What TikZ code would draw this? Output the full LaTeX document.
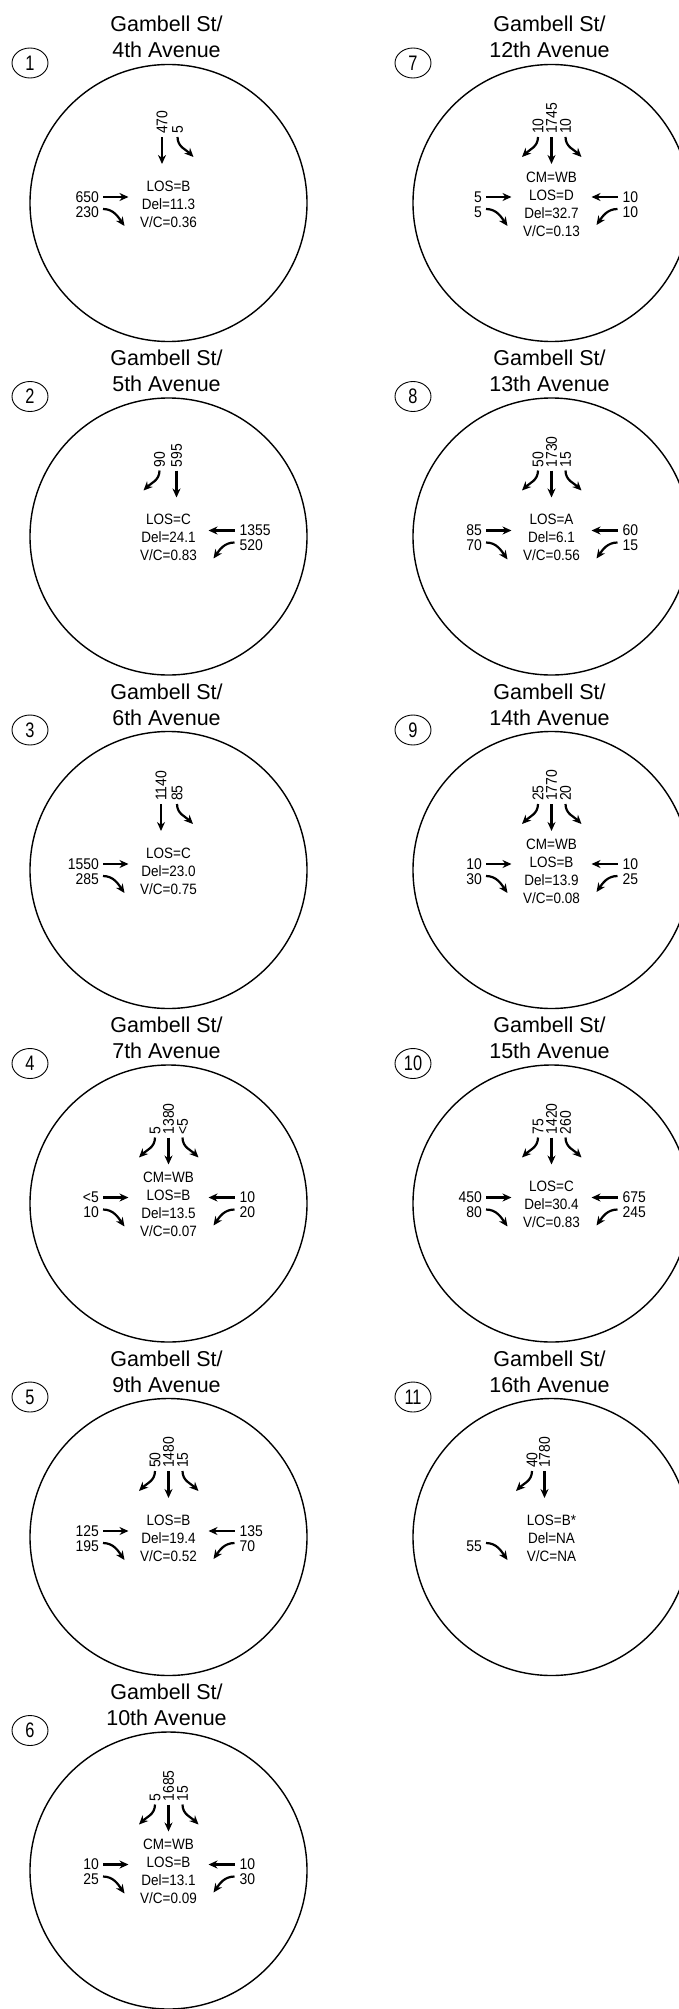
\documentclass[tikz,border=0pt]{standalone}
\usepackage{fontspec}
\setmainfont{Liberation Sans}
\newfontfamily\volfont[FakeStretch=0.9]{Liberation Sans}
\newfontfamily\badgefont[FakeStretch=0.78]{Liberation Sans}
\usetikzlibrary{arrows.meta,shapes.geometric}
\tikzstyle{ring}=[draw=black, shape=circle, line width=1.4pt, minimum size=277pt, inner sep=0pt]
\tikzstyle{badge}=[draw=black, shape=ellipse, line width=0.9pt, minimum width=36pt, minimum height=30pt, inner sep=0pt, font=\badgefont\fontsize{21}{21}\selectfont]
\tikzstyle{title}=[align=center, inner sep=0pt, anchor=base, font=\fontsize{21.5}{26}\selectfont]
\tikzstyle{info}=[align=center, inner sep=0pt, font=\volfont\fontsize{15}{18}\selectfont]
\tikzstyle{vol}=[inner sep=0pt, font=\volfont\fontsize{15.5}{15.5}\selectfont]
\tikzstyle{move}=[-{Stealth[length=9pt,width=8pt]}, line width=2.2pt]

% from the top: #1 = x of the lane, #2 = volume
\newcommand{\sbthru}[2]{%
  \node [vol, rotate=90, anchor=west] (sbt) at (#1,69) {#2};
  \coordinate (sbt-a) at (#1,66);
  \coordinate (sbt-b) at (#1,39);
  \draw [move] (sbt-a) -- (sbt-b);}
\newcommand{\sbright}[2]{%
  \node [vol, rotate=90, anchor=west] (sbr) at (#1,69) {#2};
  \coordinate (sbr-a) at (#1,66);
  \coordinate (sbr-b) at ({#1-16},46);
  \draw [move] (sbr-a) to [out=-90, in=45] (sbr-b);}
\newcommand{\sbleft}[2]{%
  \node [vol, rotate=90, anchor=west] (sbl) at (#1,69) {#2};
  \coordinate (sbl-a) at (#1,66);
  \coordinate (sbl-b) at ({#1+16},46);
  \draw [move] (sbl-a) to [out=-90, in=135] (sbl-b);}
% from the left
\newcommand{\ebthru}[1]{%
  \node [vol, anchor=east] (ebt) at (-69.5,6) {#1};
  \coordinate (ebt-a) at (-65.5,6);
  \coordinate (ebt-b) at (-40,6);
  \draw [move] (ebt-a) -- (ebt-b);}
\newcommand{\ebright}[1]{%
  \node [vol, anchor=east] (ebr) at (-69.5,-9) {#1};
  \coordinate (ebr-a) at (-65.5,-6);
  \coordinate (ebr-b) at (-44,-23);
  \draw [move] (ebr-a) to [out=0, in=125] (ebr-b);}
% from the right
\newcommand{\wbthru}[1]{%
  \node [vol, anchor=west] (wbt) at (71,6) {#1};
  \coordinate (wbt-a) at (66,6);
  \coordinate (wbt-b) at (40,6);
  \draw [move] (wbt-a) -- (wbt-b);}
\newcommand{\wbleft}[1]{%
  \node [vol, anchor=west] (wbl) at (71,-9) {#1};
  \coordinate (wbl-a) at (66,-6);
  \coordinate (wbl-b) at (45,-22);
  \draw [move] (wbl-a) to [out=180, in=55] (wbl-b);}
% circle, number and street names
\newcommand{\crossing}[3]{%
  \node [ring] (ring) at (0,0) {};
  \node [badge] (badge) at (-138.5,140) {#1};
  \node [title] (title) at (-2,145) {Gambell St/\\#2 Avenue};
  \node [info] (info) at (0,-1) {#3};}

\begin{document}
\begin{tikzpicture}[x=1pt, y=1pt]
    \useasboundingbox (0,0) rectangle (679,-2009);

    \begin{scope}[shift={(168.5,-203)}, name prefix=p1-]
        \crossing{1}{4th}{LOS=B\\Del=11.3\\V/C=0.36}
        \sbthru{-6.5}{470} \sbleft{9}{5}
        \ebthru{650} \ebright{230}
    \end{scope}
    \begin{scope}[shift={(168.5,-536.5)}, name prefix=p2-]
        \crossing{2}{5th}{LOS=C\\Del=24.1\\V/C=0.83}
        \sbright{-9}{90} \sbthru{8}{595}
        \wbthru{1355} \wbleft{520}
    \end{scope}
    \begin{scope}[shift={(168.5,-870)}, name prefix=p3-]
        \crossing{3}{6th}{LOS=C\\Del=23.0\\V/C=0.75}
        \sbthru{-7.5}{1140} \sbleft{8.5}{85}
        \ebthru{1550} \ebright{285}
    \end{scope}
    \begin{scope}[shift={(168.5,-1203.5)}, name prefix=p4-]
        \crossing{4}{7th}{CM=WB\\LOS=B\\Del=13.5\\V/C=0.07}
        \sbright{-13.5}{5} \sbthru{0}{1380} \sbleft{14}{<5}
        \ebthru{<5} \ebright{10}
        \wbthru{10} \wbleft{20}
    \end{scope}
    \begin{scope}[shift={(168.5,-1537)}, name prefix=p5-]
        \crossing{5}{9th}{LOS=B\\Del=19.4\\V/C=0.52}
        \sbright{-13.5}{50} \sbthru{0}{1480} \sbleft{14}{15}
        \ebthru{125} \ebright{195}
        \wbthru{135} \wbleft{70}
    \end{scope}
    \begin{scope}[shift={(168.5,-1870.5)}, name prefix=p6-]
        \crossing{6}{10th}{CM=WB\\LOS=B\\Del=13.1\\V/C=0.09}
        \sbright{-13.5}{5} \sbthru{0}{1685} \sbleft{14}{15}
        \ebthru{10} \ebright{25}
        \wbthru{10} \wbleft{30}
    \end{scope}

    \begin{scope}[shift={(551.5,-203)}, name prefix=p7-]
        \crossing{7}{12th}{CM=WB\\LOS=D\\Del=32.7\\V/C=0.13}
        \sbright{-13.5}{10} \sbthru{0}{1745} \sbleft{14}{10}
        \ebthru{5} \ebright{5}
        \wbthru{10} \wbleft{10}
    \end{scope}
    \begin{scope}[shift={(551.5,-536.5)}, name prefix=p8-]
        \crossing{8}{13th}{LOS=A\\Del=6.1\\V/C=0.56}
        \sbright{-13.5}{50} \sbthru{0}{1730} \sbleft{14}{15}
        \ebthru{85} \ebright{70}
        \wbthru{60} \wbleft{15}
    \end{scope}
    \begin{scope}[shift={(551.5,-870)}, name prefix=p9-]
        \crossing{9}{14th}{CM=WB\\LOS=B\\Del=13.9\\V/C=0.08}
        \sbright{-13.5}{25} \sbthru{0}{1770} \sbleft{14}{20}
        \ebthru{10} \ebright{30}
        \wbthru{10} \wbleft{25}
    \end{scope}
    \begin{scope}[shift={(551.5,-1203.5)}, name prefix=p10-]
        \crossing{10}{15th}{LOS=C\\Del=30.4\\V/C=0.83}
        \sbright{-13.5}{75} \sbthru{0}{1420} \sbleft{14}{260}
        \ebthru{450} \ebright{80}
        \wbthru{675} \wbleft{245}
    \end{scope}
    \begin{scope}[shift={(551.5,-1537)}, name prefix=p11-]
        \crossing{11}{16th}{LOS=B*\\Del=NA\\V/C=NA}
        \sbright{-19.5}{40} \sbthru{-7}{1780}
        \ebright{55}
    \end{scope}
\end{tikzpicture}
\end{document}
